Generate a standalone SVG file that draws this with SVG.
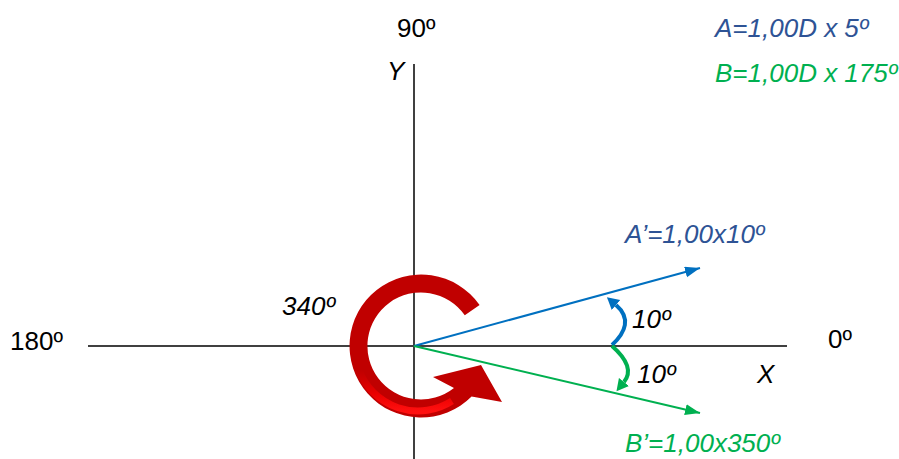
<svg xmlns="http://www.w3.org/2000/svg" width="899" height="459" viewBox="0 0 899 459">
  <style>
    text { font-family: "Liberation Sans", Arial, sans-serif; font-size: 26px; }
    .it { font-style: italic; }
    .blk { fill: #000000; }
    .dblue { fill: #2E5395; }
    .grn { fill: #00B050; }
    .axis { stroke: #404040; stroke-width: 2; fill: none; }
  </style>
  <defs>
    <marker id="headBlue" markerUnits="userSpaceOnUse" markerWidth="16" markerHeight="12" refX="15" refY="5.5" orient="auto">
      <path d="M0,0 L15,5.5 L0,11 Z" fill="#0070C0"/>
    </marker>
    <marker id="headGreen" markerUnits="userSpaceOnUse" markerWidth="16" markerHeight="12" refX="15" refY="5.5" orient="auto">
      <path d="M0,0 L15,5.5 L0,11 Z" fill="#00B050"/>
    </marker>
    <marker id="curlBlue" markerUnits="userSpaceOnUse" markerWidth="14" markerHeight="14" refX="0" refY="6.5" orient="auto">
      <path d="M0,0 L12,6.5 L0,13 Z" fill="#0070C0"/>
    </marker>
    <marker id="curlGreen" markerUnits="userSpaceOnUse" markerWidth="14" markerHeight="14" refX="0" refY="6.5" orient="auto">
      <path d="M0,0 L12,6.5 L0,13 Z" fill="#00B050"/>
    </marker>
    <linearGradient id="redGrad" x1="0" y1="0" x2="0" y2="1">
      <stop offset="0" stop-color="#E80000" stop-opacity="0"/>
      <stop offset="0.6" stop-color="#F00000" stop-opacity="0.9"/>
      <stop offset="1" stop-color="#FF1010" stop-opacity="1"/>
    </linearGradient>
  </defs>

  <g id="axes">
    <line class="axis" x1="88" y1="346" x2="787" y2="346"/>
    <line class="axis" x1="414" y1="64" x2="414" y2="459"/>
  </g>

  <g id="rotation-arrow">
    <path d="M479.6,305 A71.5,71.5 0 1 0 471.6,396.6 L502,402 L481,365 L433,377 L454,388 A53.5,53.5 0 1 1 464.8,315.3 Z" fill="#C00000"/>
    <path d="M359,370 A63,63 0 0 0 452,401" fill="none" stroke="url(#redGrad)" stroke-width="7"/>
  </g>

  <g id="connectors">
    <line x1="414" y1="346" x2="700" y2="268" stroke="#0070C0" stroke-width="2" marker-end="url(#headBlue)"/>
    <line x1="414" y1="346" x2="700" y2="413" stroke="#00B050" stroke-width="2" marker-end="url(#headGreen)"/>
    <path d="M612,345 C626,332 631,318 616,305" fill="none" stroke="#0070C0" stroke-width="4" marker-end="url(#curlBlue)"/>
    <path d="M612,346 C628,360 632,372 624,382" fill="none" stroke="#00B050" stroke-width="4" marker-end="url(#curlGreen)"/>
  </g>

  <g id="labels">
    <text class="blk" x="397" y="37">90º</text>
    <text class="blk it" x="387" y="80">Y</text>
    <text class="blk" x="10" y="350">180º</text>
    <text class="blk" x="828" y="348">0º</text>
    <text class="blk it" x="757" y="383">X</text>
    <text class="blk it" x="282" y="315">340º</text>
    <text class="blk it" x="632" y="328">10º</text>
    <text class="blk it" x="637" y="383">10º</text>
  </g>

  <g id="node-A-prime">
    <text class="dblue it" x="625" y="243">A’=1,00x10º</text>
  </g>
  <g id="node-B-prime">
    <text class="grn it" x="625" y="452">B’=1,00x350º</text>
  </g>
  <g id="node-A">
    <text class="dblue it" x="715" y="37">A=1,00D x 5º</text>
  </g>
  <g id="node-B">
    <text class="grn it" x="715" y="82">B=1,00D x 175º</text>
  </g>
</svg>
